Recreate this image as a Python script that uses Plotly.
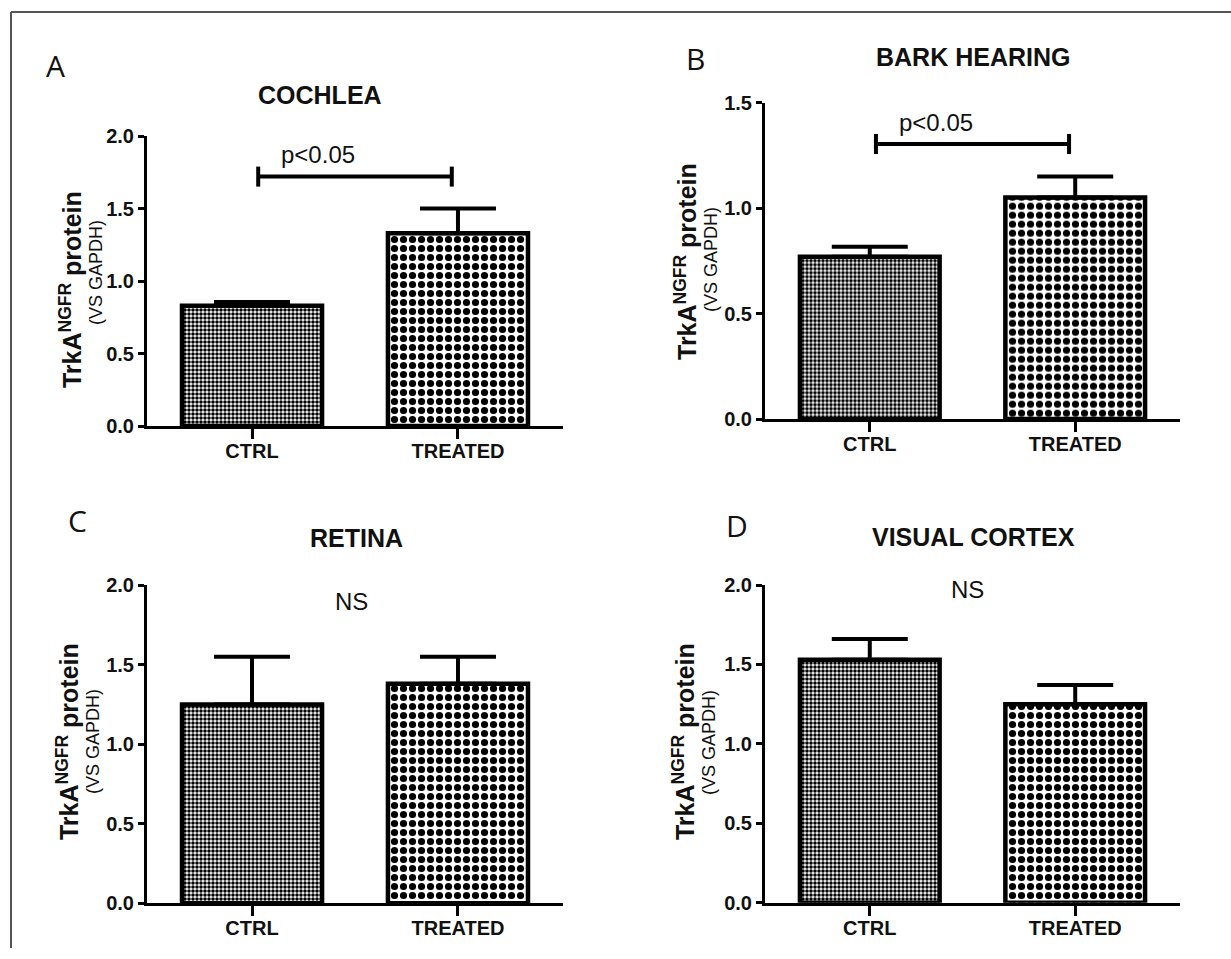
import plotly.graph_objects as go

W, H = 1231, 959

# ---------------- data ----------------
categories = ["CTRL", "TREATED"]

panel_letters = ["A", "B", "C", "D"]
panel_titles = ["COCHLEA", "BARK HEARING", "RETINA", "VISUAL CORTEX"]

cochlea_mean = [0.83, 1.33]
cochlea_sem = [0.025, 0.17]

bark_mean = [0.77, 1.05]
bark_sem = [0.047, 0.10]

retina_mean = [1.25, 1.38]
retina_sem = [0.30, 0.17]

cortex_mean = [1.53, 1.25]
cortex_sem = [0.13, 0.12]

y_max = [2.0, 1.5, 2.0, 2.0]
y_dtick = 0.5

stat_labels = ["p<0.05", "p<0.05", "NS", "NS"]
stat_label_y = [1.87, 1.405, 1.895, 1.97]
bracket_y = [1.72, 1.304, None, None]

means = [cochlea_mean, bark_mean, retina_mean, cortex_mean]
sems = [cochlea_sem, bark_sem, retina_sem, cortex_sem]

# ---------------- layout geometry (pixels, as seen in the target) ----------------
x_px = [(147, 563), (765, 1180), (147, 563), (765, 1180)]
y_px = [(136, 426), (102.7, 419), (585, 903.3), (585, 902.7)]
title_pos = [(320, 95), (973, 57), (357, 538), (973, 537)]
letter_pos = [(55, 65), (695, 58), (77, 520), (737, 525)]
ytitle1_pos = [(71, 290), (686, 262), (68, 742), (684, 742)]
ytitle2_pos = [(96, 273), (711, 260), (93, 742), (709, 743)]
stat_x = [0.32, 0.32, 0.485, 0.476]

# vertical mapping between target pixels and figure pixels (empirical)
SY, OY = 0.977, 11.0


def py(y):
    """paper fraction for a target-pixel y position"""
    return 1 - ((y - OY) / SY) / H


def px(x):
    return x / W


TICK_FONT = "Liberation Sans, Arial"
TEXT_FONT = "Liberation Sans, Arial"

fig = go.Figure()

patterns = [
    dict(shape=".", size=4, solidity=0.62, fgcolor="black", bgcolor="white", fillmode="replace"),
    dict(shape=".", size=9, solidity=0.5, fgcolor="black", bgcolor="white", fillmode="replace"),
]

annotations = []
shapes = []

for i in range(4):
    ax = "" if i == 0 else str(i + 1)
    xa, ya = "x" + ax, "y" + ax
    for j, cat in enumerate(categories):
        fig.add_trace(go.Bar(
            x=[cat], y=[means[i][j]],
            width=0.68,
            marker=dict(color="white", pattern=patterns[j],
                        line=dict(color="black", width=4.5)),
            error_y=dict(type="data", array=[sems[i][j]], arrayminus=[0],
                         symmetric=False, thickness=4, width=38, color="black"),
            xaxis=xa, yaxis=ya, showlegend=False, cliponaxis=False,
            hoverinfo="skip",
        ))

    x0, x1 = x_px[i]
    yt, yb = y_px[i]
    fig.layout["xaxis" + ax] = dict(
        domain=[px(x0), px(x1)], anchor=ya,
        type="category", categoryorder="array", categoryarray=categories,
        range=[-0.51, 1.51], showline=True, linecolor="black", linewidth=3,
        ticks="outside", ticklen=10, tickwidth=3, tickcolor="black",
        ticklabelstandoff=-5,
        showgrid=False, zeroline=False,
        tickfont=dict(family=TICK_FONT, size=20, color="#111", weight="bold"),
    )
    fig.layout["yaxis" + ax] = dict(
        domain=[py(yb), py(yt)], anchor=xa,
        range=[0, y_max[i]], dtick=y_dtick, tickformat=".1f",
        showline=True, linecolor="black", linewidth=3,
        ticks="outside", ticklen=6, tickwidth=3, tickcolor="black",
        showgrid=False, zeroline=False,
        tickfont=dict(family=TICK_FONT, size=20, color="#111", weight="bold"),
    )

    # significance label
    annotations.append(dict(
        x=stat_x[i], y=stat_label_y[i], xref=xa, yref=ya, text=stat_labels[i],
        showarrow=False, font=dict(family=TEXT_FONT, size=24, color="#111"),
    ))
    if bracket_y[i] is not None:
        by = bracket_y[i]
        shapes.append(dict(type="line", xref=xa, yref=ya, x0=0.03, x1=0.97,
                           y0=by, y1=by, line=dict(color="black", width=4)))
        for bx in (0.03, 0.97):
            shapes.append(dict(type="line", xref=xa, yref=ya, x0=bx, x1=bx,
                               ysizemode="pixel", yanchor=by, y0=-10, y1=10,
                               line=dict(color="black", width=4)))

    # titles
    tx, ty = title_pos[i]
    annotations.append(dict(
        x=px(tx), y=py(ty), xref="paper", yref="paper", text=panel_titles[i],
        showarrow=False, xanchor="center", yanchor="middle",
        font=dict(family=TEXT_FONT, size=25, color="#111", weight="bold"),
    ))
    lx, ly = letter_pos[i]
    annotations.append(dict(
        x=px(lx), y=py(ly), xref="paper", yref="paper", text=panel_letters[i],
        showarrow=False, xanchor="center", yanchor="middle",
        font=dict(family="Open Sans, Noto Sans, sans-serif", size=30, color="#111"),
    ))
    # y-axis title (two lines)
    a1x, a1y = ytitle1_pos[i]
    annotations.append(dict(
        x=px(a1x), y=py(a1y), xref="paper", yref="paper",
        text="TrkA<sup>NGFR</sup> protein", textangle=-90,
        showarrow=False, xanchor="center", yanchor="middle",
        font=dict(family=TEXT_FONT, size=25, color="#111", weight="bold"),
    ))
    a2x, a2y = ytitle2_pos[i]
    annotations.append(dict(
        x=px(a2x), y=py(a2y), xref="paper", yref="paper",
        text="(VS GAPDH)", textangle=-90,
        showarrow=False, xanchor="center", yanchor="middle",
        font=dict(family=TEXT_FONT, size=18, color="#111"),
    ))

# outer frame (top and left edges visible)
frame_top = min(py(9), 0.999)
shapes.append(dict(type="line", xref="paper", yref="paper", x0=px(11), x1=1.0,
                   y0=frame_top, y1=frame_top, line=dict(color="#555", width=2)))
shapes.append(dict(type="line", xref="paper", yref="paper", x0=px(11), x1=px(11),
                   y0=0, y1=frame_top, line=dict(color="#555", width=2)))

fig.update_layout(
    width=W, height=H, margin=dict(l=0, r=0, t=0, b=0),
    paper_bgcolor="white", plot_bgcolor="white",
    annotations=annotations, shapes=shapes, bargap=0.32,
)

fig.write_html(
    "out.html",
    config={"displayModeBar": False},
    post_script=(
        "document.documentElement.style.margin='0';"
        "document.body.style.margin='0';document.body.style.padding='0';"
        "document.body.style.overflow='hidden';"
        "var gd=document.getElementById('{plot_id}');"
        "gd.style.position='fixed';gd.style.top='0px';gd.style.left='0px';"
    ),
)
